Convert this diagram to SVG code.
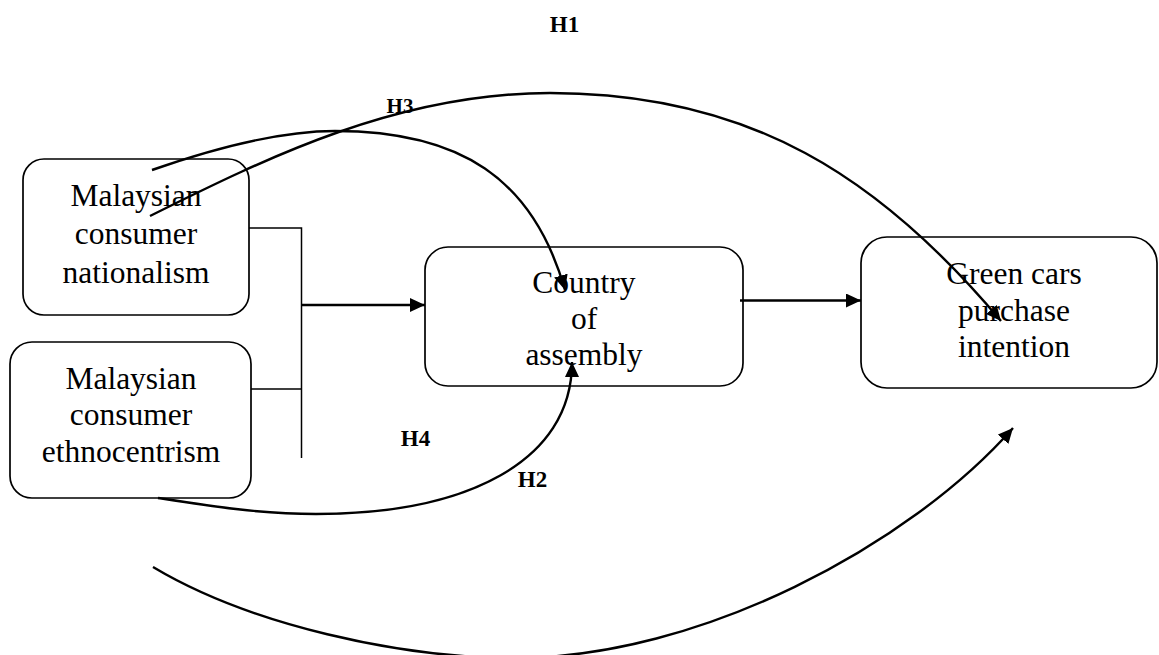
<svg xmlns="http://www.w3.org/2000/svg" width="1159" height="655" viewBox="0 0 1159 655">
<style>
.box{fill:none;stroke:#000;stroke-width:1.7}
.t{font-family:"Liberation Serif","Times New Roman",serif;font-size:31.5px;fill:#000;text-anchor:middle}
.lbl{font-family:"Liberation Serif","Times New Roman",serif;font-size:23px;font-weight:bold;fill:#000;text-anchor:middle}
.ln{fill:none;stroke:#000;stroke-width:1.5}
.cv{fill:none;stroke:#000;stroke-width:2.4}
</style>
<defs>
<marker id="ah" markerUnits="userSpaceOnUse" markerWidth="16" markerHeight="14" refX="15" refY="7" orient="auto">
<path d="M0,0 L15,7 L0,14 z" fill="#000"/>
</marker>
</defs>
<rect width="1159" height="655" fill="#fff"/>
<g id="node-nationalism">
<rect class="box" x="23" y="159" width="226" height="156" rx="21"/>
<text class="t" x="136" y="206">Malaysian</text>
<text class="t" x="136" y="244">consumer</text>
<text class="t" x="136" y="283">nationalism</text>
</g>
<g id="node-ethnocentrism">
<rect class="box" x="10" y="342" width="241" height="156" rx="22"/>
<text class="t" x="131" y="389">Malaysian</text>
<text class="t" x="131" y="425">consumer</text>
<text class="t" x="131" y="462">ethnocentrism</text>
</g>
<g id="node-country">
<rect class="box" x="425" y="247" width="318" height="139" rx="23"/>
<text class="t" x="584" y="293">Country</text>
<text class="t" x="584" y="329">of</text>
<text class="t" x="584" y="365">assembly</text>
</g>
<g id="node-green">
<rect class="box" x="861" y="237" width="296" height="151" rx="26"/>
<text class="t" x="1014" y="284">Green cars</text>
<text class="t" x="1014" y="321">purchase</text>
<text class="t" x="1014" y="357">intention</text>
</g>
<g id="connectors">
<path class="ln" d="M249,228 H301.5 V458 M251,389 H301.5"/>
<path class="cv" d="M301.5,305 H425" marker-end="url(#ah)"/>
<path class="cv" d="M740,300.5 H861" marker-end="url(#ah)"/>
<path class="cv" d="M152,170 C212,149 280,131 335,131 C460,131 533,178 565,290" marker-end="url(#ah)"/>
<path class="cv" d="M150,216 C270,156 400,93 550,93 C750,93 880,177 1001,321" marker-end="url(#ah)"/>
<path class="cv" d="M158,498 C210,506 260,514 316,514 C466,514 572,462 572,362" marker-end="url(#ah)"/>
<path class="cv" d="M153,567 C250,625 400,658 515,658 C700,658 910,545 1013,428" marker-end="url(#ah)"/>
</g>
<g id="labels">
<text class="lbl" x="564.5" y="32">H1</text>
<text class="lbl" x="400" y="113" style="font-size:21px">H3</text>
<text class="lbl" x="415.5" y="446">H4</text>
<text class="lbl" x="532.5" y="487">H2</text>
</g>
</svg>
